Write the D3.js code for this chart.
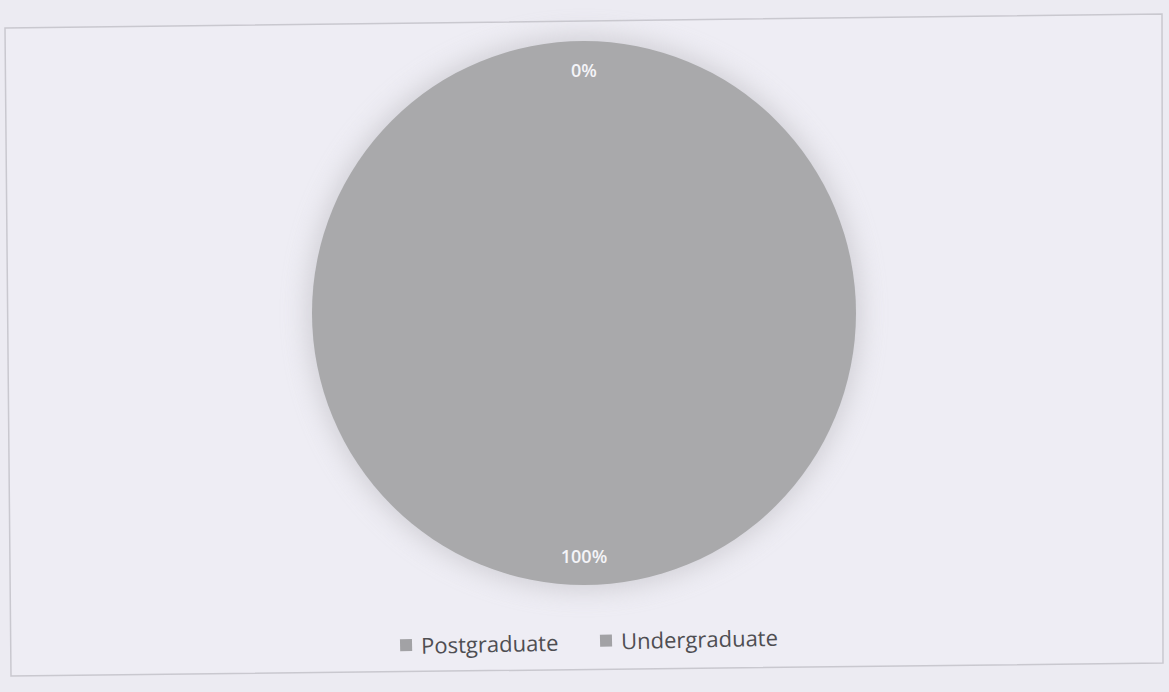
<!DOCTYPE html>
<html>
<head>
<meta charset="utf-8">
<script src="https://cdn.jsdelivr.net/npm/d3@7"></script>
<style>
  html, body { margin: 0; padding: 0; background: #ecebf2; }
  svg { display: block; }
</style>
</head>
<body>
<svg id="chart" width="1169" height="692"></svg>
<script>
// Study level of respondents
const categories = ["Postgraduate", "Undergraduate"];
const shares = [0, 100];
const pctLabels = ["0%", "100%"];

const W = 1169, H = 692;
const cx = 584, cy = 313, R = 272;

const svg = d3.select("#chart");

const defs = svg.append("defs");
defs.append("filter").attr("id", "halo")
  .attr("x", "-30%").attr("y", "-30%").attr("width", "160%").attr("height", "160%")
  .append("feGaussianBlur").attr("stdDeviation", 12);

// chart area frame
svg.append("path")
  .attr("d", "M5,28 L1162,14 L1163,663 L11,676 Z")
  .attr("fill", "#eeedf4")
  .attr("stroke", "#c9c8cf")
  .attr("stroke-width", 1.5);

const color = d3.scaleOrdinal().domain(categories).range(["#a5a5a7", "#a9a9ab"]);

const pie = d3.pie().sort(null).value(d => d.value);
const arcs = pie(categories.map((c, i) => ({ name: c, value: shares[i], label: pctLabels[i] })));

const g = svg.append("g").attr("transform", `translate(${cx},${cy})`);

// soft shadow around the pie
g.append("circle").attr("r", R + 6)
  .attr("fill", "#c9c8ce").attr("opacity", 0.75)
  .attr("filter", "url(#halo)");

const arc = d3.arc().innerRadius(0).outerRadius(R);
const labelArc = d3.arc().innerRadius(R * 0.895).outerRadius(R * 0.895);

g.selectAll("path.slice").data(arcs).join("path")
  .attr("class", "slice")
  .attr("d", arc)
  .attr("fill", d => color(d.data.name));

g.selectAll("text.pct").data(arcs).join("text")
  .attr("class", "pct")
  .attr("transform", d => {
    const [x, y] = labelArc.centroid(d);
    return `translate(${x},${y})`;
  })
  .attr("text-anchor", "middle")
  .attr("dominant-baseline", "central")
  .attr("font-family", "'Open Sans', 'Noto Sans', sans-serif")
  .attr("font-size", 18)
  .attr("font-weight", 600)
  .attr("fill", "#f4f4f8")
  .text(d => d.data.label);

// legend
const legendX = d3.scalePoint().domain(categories).range([400, 600]);
const legend = svg.append("g").attr("transform", "rotate(-1.3, 590, 640)");
const items = legend.selectAll("g.item").data(categories).join("g")
  .attr("class", "item")
  .attr("transform", d => `translate(${legendX(d)},641)`);
items.append("rect")
  .attr("x", 0).attr("y", -6).attr("width", 12).attr("height", 12)
  .attr("fill", "#a2a2a5");
items.append("text")
  .attr("x", 21).attr("y", 0)
  .attr("dominant-baseline", "central")
  .attr("font-family", "'Open Sans', 'Noto Sans', sans-serif")
  .attr("font-size", 22)
  .attr("fill", "#4e4e52")
  .text(d => d);
</script>
</body>
</html>
